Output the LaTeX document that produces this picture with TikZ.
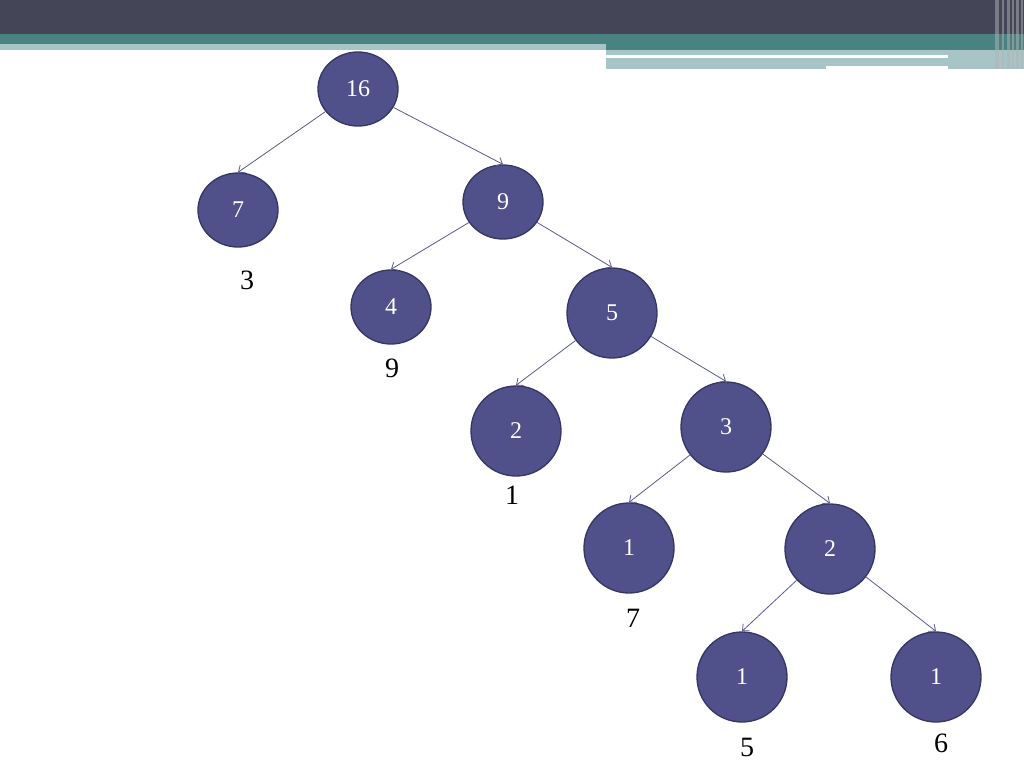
\documentclass[tikz,border=0pt]{standalone}
\usepackage{fontspec}
\setmainfont{Liberation Serif}
\usetikzlibrary{shapes.geometric, arrows.meta, positioning}
\definecolor{headerdark}{RGB}{69,69,88}
\definecolor{headerteal}{RGB}{74,130,130}
\definecolor{headerlight}{RGB}{167,197,199}
\definecolor{nodefill}{RGB}{80,80,138}
\definecolor{nodeedge}{RGB}{55,55,100}
\definecolor{edgeline}{RGB}{90,90,145}

\begin{document}
\begin{tikzpicture}[
  x=0.75pt, y=-0.75pt,
  smallnode/.style={
    ellipse, line width=1pt,
    draw=nodeedge, fill=nodefill,
    minimum width=60pt, minimum height=55.5pt, inner sep=0pt,
    text=white, font=\fontsize{18}{20}\selectfont
  },
  bignode/.style={smallnode, circle, minimum size=67.5pt},
  weight/.style={font=\fontsize{21}{23}\selectfont, text=black},
  arrow/.style={-{Straight Barb[length=4pt, width=7pt]}, line width=0.6pt, draw=edgeline}
]

% ---- Page and header band ----
\fill[white] (0,0) rectangle (1024,768);
\useasboundingbox (0,0) rectangle (1024,768);
\fill[headerdark] (0,0) rectangle (1024,34);
\fill[headerteal] (0,34) rectangle (1024,50);
\fill[headerlight] (0,44) rectangle (606,50);
\fill[headerlight] (606,50) rectangle (1024,66);
\fill[headerlight] (606,66) rectangle (826,69);
\fill[headerlight] (948,66) rectangle (1024,69);
\fill[white] (606,55) rectangle (948,58);
\foreach \sx/\sw in {995/4, 1002/2, 1007/3, 1012/2, 1016/3, 1021/2} {
  \fill[gray!60, opacity=0.5] (\sx,0) rectangle (\sx+\sw,69);
}

% ---- Tree nodes ----
\node[smallnode] (t)      at (358,89)  {16};
\node[smallnode] (tL)     at (238,210) {7};
\node[smallnode] (tR)     at (503,202) {9};
\node[smallnode] (tRL)    at (391,307) {4};
\node[bignode]   (tRR)    at (612,313) {5};
\node[bignode]   (tRRL)   at (516,431) {2};
\node[bignode]   (tRRR)   at (726,427) {3};
\node[bignode]   (tRRRL)  at (629,548) {1};
\node[bignode]   (tRRRR)  at (830,549) {2};
\node[bignode]   (tRRRRL) at (742,677) {1};
\node[bignode]   (tRRRRR) at (936,677) {1};

% ---- Numbers under the leaves ----
\node[weight] (wL)     at (247,280) {3};
\node[weight] (wRL)    at (392,368) {9};
\node[weight] (wRRL)   at (512,495) {1};
\node[weight] (wRRRL)  at (633,618) {7};
\node[weight] (wRRRRL) at (747,747) {5};
\node[weight] (wRRRRR) at (941,743) {6};

% ---- Edges (parent -> top of child) ----
\foreach \p/\c in {t/tL, t/tR, tR/tRL, tR/tRR, tRR/tRRL, tRR/tRRR,
                   tRRR/tRRRL, tRRR/tRRRR, tRRRR/tRRRRL, tRRRR/tRRRRR} {
  \draw[arrow] (\p) -- (\c.north);
}

\end{tikzpicture}
\end{document}
